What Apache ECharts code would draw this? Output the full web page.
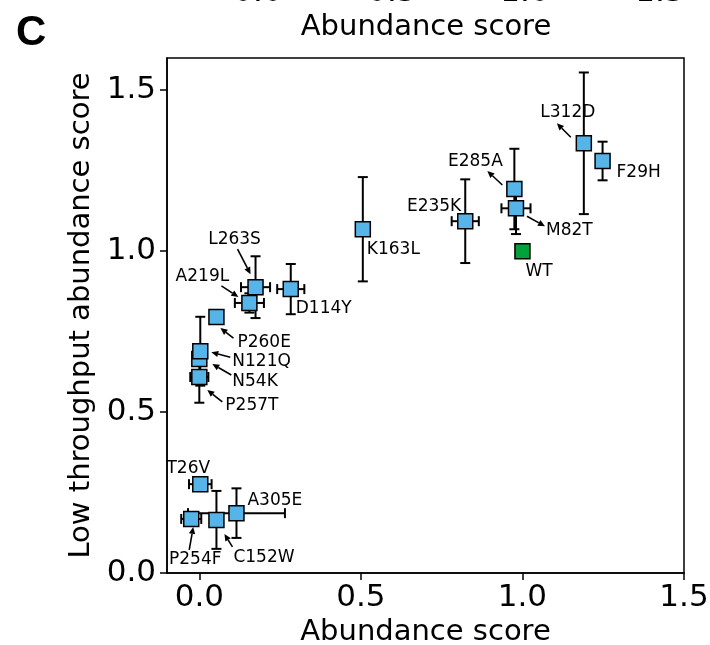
<!DOCTYPE html>
<html>
<head>
<meta charset="utf-8">
<script src="https://cdn.jsdelivr.net/npm/echarts@6/dist/echarts.min.js"></script>
<style>
html,body{margin:0;padding:0;background:#fff;}
#chart{width:710px;height:645px;}
</style>
</head>
<body>
<div id="chart"></div>
<script>
// ---- data ----
const names  = ['L312D','F29H','E285A','M82T','E235K','K163L','L263S','A219L','D114Y','P260E','N54K','N121Q','P257T','T26V','A305E','P254F','C152W'];
const abundance = [1.19, 1.248, 0.975, 0.98, 0.823, 0.506, 0.174, 0.155, 0.283, 0.053, 0.0, 0.003, 0.0, 0.003, 0.115, -0.025, 0.053];
const lowThroughput = [1.335, 1.28, 1.193, 1.133, 1.093, 1.068, 0.888, 0.839, 0.882, 0.795, 0.665, 0.689, 0.609, 0.276, 0.186, 0.168, 0.165];
const abundanceErr = [0.01, 0.005, 0.01, 0.045, 0.042, 0.0, 0.045, 0.045, 0.042, 0.0, 0.01, 0.005, 0.028, 0.035, 0.15, 0.031, 0.02];
const lowThroughputErr = [0.22, 0.06, 0.125, 0.08, 0.13, 0.162, 0.096, 0.03, 0.078, 0.0, 0.01, 0.107, 0.08, 0.01, 0.077, 0.015, 0.09];
const wtName = 'WT';
const wtAbundance = [1.0];
const wtLowThroughput = [1.0];
const tickValues = [0, 0.5, 1.0, 1.5];

// ---- label layout (pixel offsets relative to each point; styling only) ----
// [textDx, textDy, align, arrowStartDx, arrowStartDy, arrowEndDx, arrowEndDy] (arrow only when given)
const labelLayout = {
  'L312D': [-16,-31,'center', -13,-6,-27,-20],
  'F29H':  [14,12,'left'],
  'E285A': [-39,-27,'center', -12,-4,-27,-18],
  'M82T':  [30,22,'left', 11,8,29,18],
  'E235K': [-4,-15,'right'],
  'WT':    [3,20,'left'],
  'K163L': [4,20,'left'],
  'L263S': [-21,-48,'center', -18,-38,-5,-13],
  'A219L': [-47,-26,'center', -28,-17,-11,-6],
  'D114Y': [5,19,'left'],
  'P260E': [21,25,'left', 17,21,4,11],
  'N121Q': [32,10,'left', 30,6,11,1],
  'N54K':  [33,23,'left', 32,16,13,5],
  'P257T': [26,29,'left', 23,25,8,13],
  'T26V':  [-12,-16,'center'],
  'A305E': [11,-13,'left'],
  'P254F': [4,41,'center', -2,31,2,8],
  'C152W': [17,38,'left', 16,27,8,14]
};

const FONT = '"DejaVu Sans", sans-serif';

const errData = names.map((n,i)=>[abundance[i], lowThroughput[i], abundanceErr[i], lowThroughputErr[i]]);
const ptData = names.map((n,i)=>[abundance[i], lowThroughput[i], n]);
const allLabels = ptData.concat([[wtAbundance[0], wtLowThroughput[0], wtName]]);

const chart = echarts.init(document.getElementById('chart'), null, {renderer:'canvas'});

function errRender(params, api){
  const x = api.value(0), y = api.value(1), xe = api.value(2), ye = api.value(3);
  const c = api.coord([x,y]);
  const children = [];
  const st = {stroke:'#000', lineWidth:2};
  const cap = 5;
  if (ye > 0){
    const t = api.coord([x, y+ye]), b = api.coord([x, y-ye]);
    children.push({type:'line', shape:{x1:c[0],y1:t[1],x2:c[0],y2:b[1]}, style:st});
    children.push({type:'line', shape:{x1:c[0]-cap,y1:t[1],x2:c[0]+cap,y2:t[1]}, style:st});
    children.push({type:'line', shape:{x1:c[0]-cap,y1:b[1],x2:c[0]+cap,y2:b[1]}, style:st});
  }
  if (xe > 0){
    const l = api.coord([x-xe, y]), r = api.coord([x+xe, y]);
    children.push({type:'line', shape:{x1:l[0],y1:c[1],x2:r[0],y2:c[1]}, style:st});
    children.push({type:'line', shape:{x1:l[0],y1:c[1]-cap,x2:l[0],y2:c[1]+cap}, style:st});
    children.push({type:'line', shape:{x1:r[0],y1:c[1]-cap,x2:r[0],y2:c[1]+cap}, style:st});
  }
  return {type:'group', children};
}

function labelRender(params, api){
  const name = allLabels[params.dataIndex][2];
  const c = api.coord([api.value(0), api.value(1)]);
  const L = labelLayout[name];
  const children = [];
  children.push({type:'text', style:{text:name, x:c[0]+L[0], y:c[1]+L[1], align:L[2], verticalAlign:'middle', fill:'#000', font:'17px ' + FONT}});
  if (L.length > 3){
    const x1=c[0]+L[3], y1=c[1]+L[4], x2=c[0]+L[5], y2=c[1]+L[6];
    const ang = Math.atan2(y2-y1, x2-x1);
    const hl = 7, hw = 3.2;
    const bx = x2 - hl*Math.cos(ang), by = y2 - hl*Math.sin(ang);
    children.push({type:'line', shape:{x1,y1,x2:bx,y2:by}, style:{stroke:'#000', lineWidth:1.6}});
    children.push({type:'polygon', shape:{points:[[x2,y2],[bx - hw*Math.sin(ang), by + hw*Math.cos(ang)],[bx + hw*Math.sin(ang), by - hw*Math.cos(ang)]]}, style:{fill:'#000'}});
  }
  return {type:'group', children};
}

const option = {
  backgroundColor:'#fff',
  animation:false,
  grid:{left:167, right:26, top:58, bottom:72, show:true, borderColor:'#000', borderWidth:1.5, backgroundColor:'transparent', containLabel:false, outerBoundsMode:'none'},
  xAxis:{
    type:'value', min:-0.1, max:1.5,
    splitLine:{show:false},
    axisLine:{show:true, onZero:false, lineStyle:{color:'#000', width:1.5}},
    axisTick:{show:true, customValues:tickValues, length:7, lineStyle:{color:'#000', width:1.5}},
    axisLabel:{customValues:tickValues, formatter:v=>Number(v).toFixed(1), color:'#000', fontSize:31, fontFamily:FONT, margin:9},
    name:'Abundance score', nameLocation:'middle', nameGap:40,
    nameTextStyle:{color:'#000', fontSize:29, fontFamily:FONT}
  },
  yAxis:{
    type:'value', min:0, max:1.6,
    splitLine:{show:false},
    axisLine:{show:true, onZero:false, lineStyle:{color:'#000', width:1.5}},
    axisTick:{show:true, customValues:tickValues, length:7, lineStyle:{color:'#000', width:1.5}},
    axisLabel:{customValues:tickValues, formatter:v=>Number(v).toFixed(1), color:'#000', fontSize:31, fontFamily:FONT, margin:11},
    name:'Low throughput abundance score', nameLocation:'middle', nameGap:70, nameRotate:90,
    nameTextStyle:{color:'#000', fontSize:29, fontFamily:FONT}
  },
  graphic:[
    {type:'text', left:16, top:12, style:{text:'C', font:'bold 42px "Liberation Sans", Arial, sans-serif', fill:'#000'}},
    {type:'text', x:426, y:27, style:{text:'Abundance score', align:'center', verticalAlign:'middle', font:'29px ' + FONT, fill:'#000'}},
    {type:'text', x:258, y:-7, style:{text:'0.0', align:'center', verticalAlign:'middle', font:'31px ' + FONT, fill:'#000'}},
    {type:'text', x:392, y:-7, style:{text:'0.5', align:'center', verticalAlign:'middle', font:'31px ' + FONT, fill:'#000'}},
    {type:'text', x:525, y:-7, style:{text:'1.0', align:'center', verticalAlign:'middle', font:'31px ' + FONT, fill:'#000'}},
    {type:'text', x:660, y:-7, style:{text:'1.5', align:'center', verticalAlign:'middle', font:'31px ' + FONT, fill:'#000'}}
  ],
  series:[
    {type:'custom', renderItem:errRender, data:errData, z:2, clip:false},
    {type:'scatter', data:ptData, symbol:'rect', symbolSize:15, z:3,
     itemStyle:{color:'#56B4E9', borderColor:'#000', borderWidth:1.5, opacity:1}},
    {type:'scatter', data:[[wtAbundance[0], wtLowThroughput[0], wtName]], symbol:'rect', symbolSize:15, z:3,
     itemStyle:{color:'#00A33A', borderColor:'#000', borderWidth:1.5, opacity:1}},
    {type:'custom', renderItem:labelRender, data:allLabels, z:4, clip:false}
  ]
};
chart.setOption(option);
</script>
</body>
</html>
